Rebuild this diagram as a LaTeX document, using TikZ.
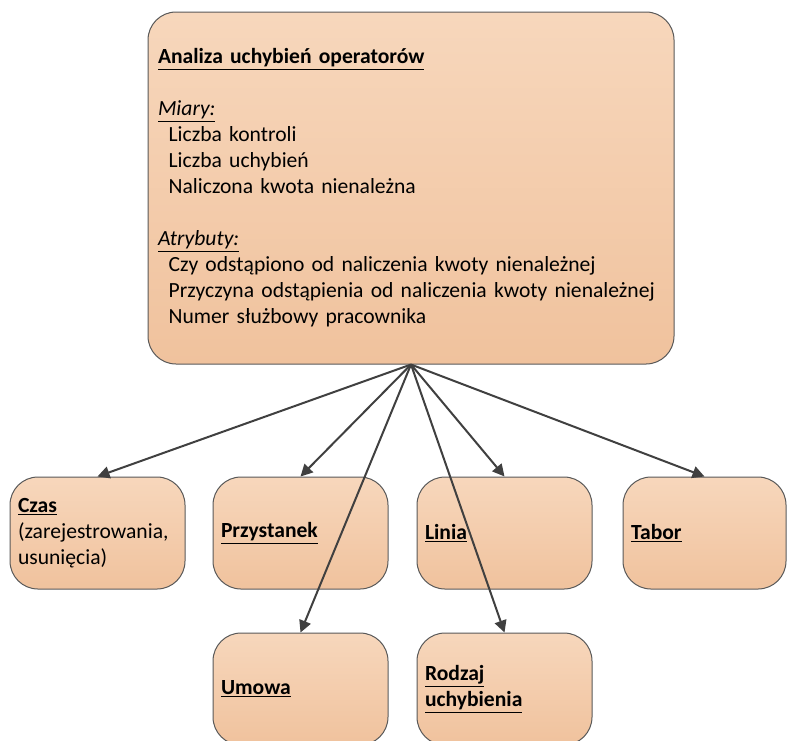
\documentclass[tikz,border=0pt]{standalone}
\usepackage{fontspec}
\setmainfont{Carlito}
\usetikzlibrary{arrows.meta}
\definecolor{boxtop}{RGB}{247,215,188}
\definecolor{boxbot}{RGB}{240,194,157}
\definecolor{boxline}{RGB}{89,89,89}
\definecolor{arrline}{RGB}{64,64,64}

\begin{document}
\begin{tikzpicture}[x=0.75pt,y=0.75pt,yscale=-1,xscale=1,
  dimbox/.style={draw=boxline, line width=0.75pt, rounded corners=21pt,
    top color=boxtop, bottom color=boxbot, align=left, inner ysep=0pt, inner xsep=6pt,
    text width=#1-12pt, minimum width=#1, minimum height=84pt,
    font=\fontsize{16.2}{19.5}\selectfont},
  dimbox/.default=131.25pt,
  link/.style={draw=arrline, line width=1.5pt, -{Triangle[length=9pt,width=9pt]}}]
\useasboundingbox (0,0) rectangle (787,740);

% Fact table
\node [dimbox=391.5pt, minimum height=264pt, inner xsep=7.5pt] (fact) at (411,188) {%
\underline{\textbf{Analiza uchybień operatorów}}\\[19.5pt]
\underline{\textit{Miary:}}\\
\hspace*{8pt}Liczba kontroli\\
\hspace*{8pt}Liczba uchybień\\
\hspace*{8pt}Naliczona kwota nienależna\\[19.5pt]
\underline{\textit{Atrybuty:}}\\
\hspace*{8pt}Czy odstąpiono od naliczenia kwoty nienależnej\\
\hspace*{8pt}Przyczyna odstąpienia od naliczenia kwoty nienależnej\\
\hspace*{8pt}Numer służbowy pracownika};

% Dimensions, first row
\node [dimbox] (czas) at (97.5,533) {\underline{\textbf{Czas}}\\ (zarejestrowania,\\ usunięcia)};
\node [dimbox] (przystanek) at (300.5,533) {\underline{\textbf{Przystanek}}};
\node [dimbox] (linia) at (504.5,533) {\underline{\textbf{Linia}}};
\node [dimbox=122.25pt] (tabor) at (704.5,533) {\underline{\textbf{Tabor}}};

% Dimensions, second row
\node [dimbox] (umowa) at (300.5,689) {\underline{\textbf{Umowa}}};
\node [dimbox] (rodzaj) at (504.5,689) {\underline{\textbf{Rodzaj}}\\ \underline{\textbf{uchybienia}}};

% Links
\coordinate (apex) at (fact.south);
\draw [link] (apex) -- (czas.north);
\draw [link] (apex) -- (przystanek.north);
\draw [link] (apex) -- (umowa.north);
\draw [link] (apex) -- (linia.north);
\draw [link] (apex) -- (rodzaj.north);
\draw [link] (apex) -- (tabor.north);

\end{tikzpicture}
\end{document}
